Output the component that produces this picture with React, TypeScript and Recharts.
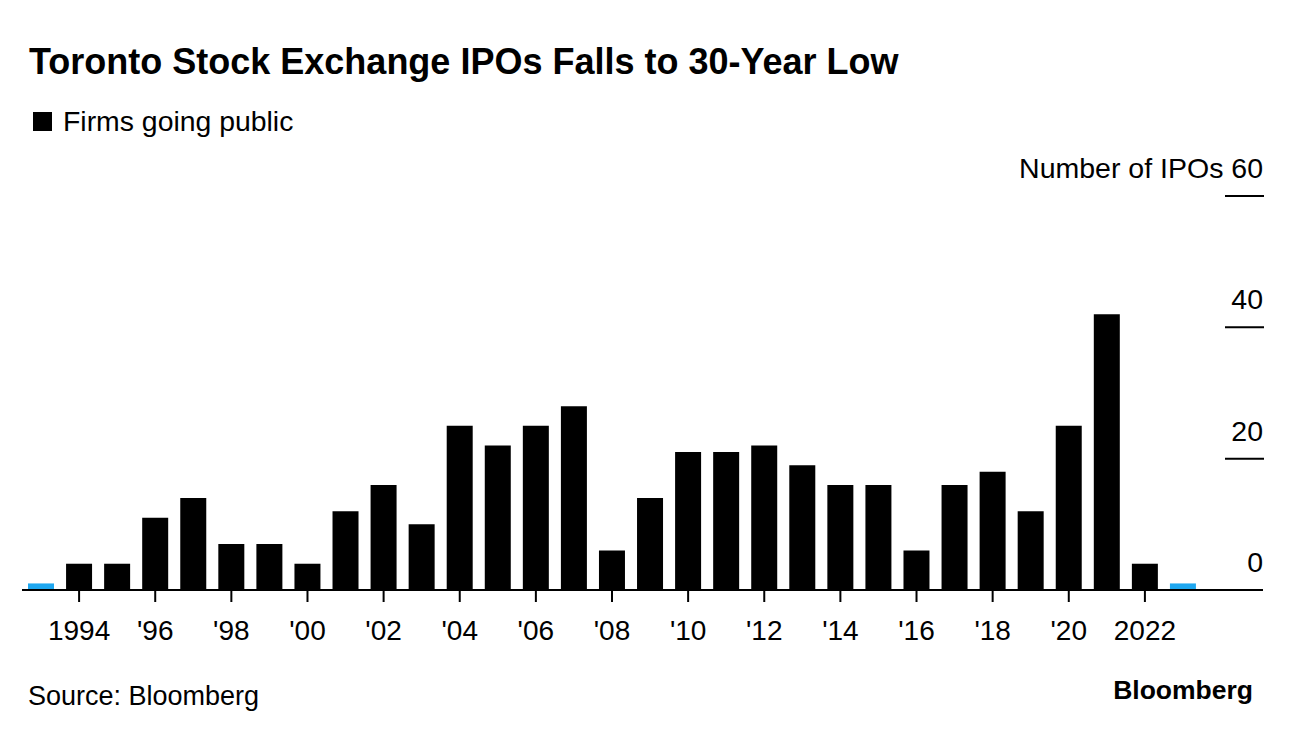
import React from 'react';
import { BarChart, Bar, XAxis, YAxis, Cell } from 'recharts';

const years = [
  1993, 1994, 1995, 1996, 1997, 1998, 1999, 2000, 2001, 2002, 2003,
  2004, 2005, 2006, 2007, 2008, 2009, 2010, 2011, 2012, 2013,
  2014, 2015, 2016, 2017, 2018, 2019, 2020, 2021, 2022, 2023,
];
const ipos = [
  1, 4, 4, 11, 14, 7, 7, 4, 12, 16, 10,
  25, 22, 25, 28, 6, 14, 21, 21, 22, 19,
  16, 16, 6, 16, 18, 12, 25, 42, 4, 1,
];
const highlightedYears = [1993, 2023];
const xTickYears = [1994, 1996, 1998, 2000, 2002, 2004, 2006, 2008, 2010, 2012, 2014, 2016, 2018, 2020, 2022];
const xTickLabels = ['1994', "'96", "'98", "'00", "'02", "'04", "'06", "'08", "'10", "'12", "'14", "'16", "'18", "'20", '2022'];
const yTicks = [0, 20, 40, 60];
const yTickLabels = ['0', '20', '40', 'Number of IPOs 60'];

const data = years.map((year, i) => ({ year, ipos: ipos[i] }));

const FONT = '"Liberation Sans", Arial, Helvetica, sans-serif';
const BLACK = '#000000';
const BLUE = '#1ea7f0';

function XTick(props: any) {
  const { x, y, payload } = props;
  const idx = xTickYears.indexOf(payload.value);
  if (idx < 0) return <g />;
  return (
    <g>
      <line x1={x} x2={x} y1={y} y2={y + 12} stroke={BLACK} strokeWidth={2} />
      <text x={x} y={y + 50} textAnchor="middle" fontSize={28} fill={BLACK} fontFamily={FONT}>
        {xTickLabels[idx]}
      </text>
    </g>
  );
}

function YTick(props: any) {
  const { x, y, payload } = props;
  const idx = yTicks.indexOf(payload.value);
  return (
    <g>
      {payload.value !== 0 && (
        <line x1={x - 38} x2={x + 1} y1={y} y2={y} stroke={BLACK} strokeWidth={2} />
      )}
      <text x={x} y={y - 18} textAnchor="end" fontSize={28.5} fill={BLACK} fontFamily={FONT}>
        {yTickLabels[idx]}
      </text>
    </g>
  );
}

export default function App() {
  return (
    <div style={{ position: 'absolute', left: 0, top: 0, width: 1292, height: 738, background: '#fff', fontFamily: FONT }}>
      <svg width={1292} height={738} style={{ position: 'absolute', left: 0, top: 0 }}>
        <text x={29} y={74} fontSize={36} fontWeight="bold" fill={BLACK} fontFamily={FONT}>
          Toronto Stock Exchange IPOs Falls to 30-Year Low
        </text>
        <rect x={33} y={112} width={19} height={19} fill={BLACK} />
        <text x={63} y={131} fontSize={28.4} fill={BLACK} fontFamily={FONT}>
          Firms going public
        </text>
        <text x={28} y={705} fontSize={27} fill={BLACK} fontFamily={FONT}>
          Source: Bloomberg
        </text>
        <text x={1253} y={699} fontSize={26.5} fontWeight="bold" textAnchor="end" fill={BLACK} fontFamily={FONT}>
          Bloomberg
        </text>
      </svg>
      <div style={{ position: 'absolute', left: 0, top: 0 }}>
        <BarChart
          width={1292}
          height={660}
          data={data}
          margin={{ top: 196, right: 28, bottom: 0, left: 22 }}
        >
          <XAxis
            dataKey="year"
            type="category"
            interval={0}
            height={70}
            padding={{ left: 0, right: 61 }}
            axisLine={{ stroke: BLACK, strokeWidth: 2 }}
            tickLine={false}
            tickSize={0}
            tickMargin={0}
            tick={<XTick />}
          />
          <YAxis
            orientation="right"
            width={1}
            domain={[0, 60]}
            ticks={yTicks}
            interval={0}
            axisLine={false}
            tickLine={false}
            tickSize={0}
            tickMargin={0}
            tick={<YTick />}
          />
          <Bar dataKey="ipos" barSize={26} isAnimationActive={false}>
            {data.map((d) => (
              <Cell key={d.year} fill={highlightedYears.includes(d.year) ? BLUE : BLACK} />
            ))}
          </Bar>
        </BarChart>
      </div>
    </div>
  );
}
